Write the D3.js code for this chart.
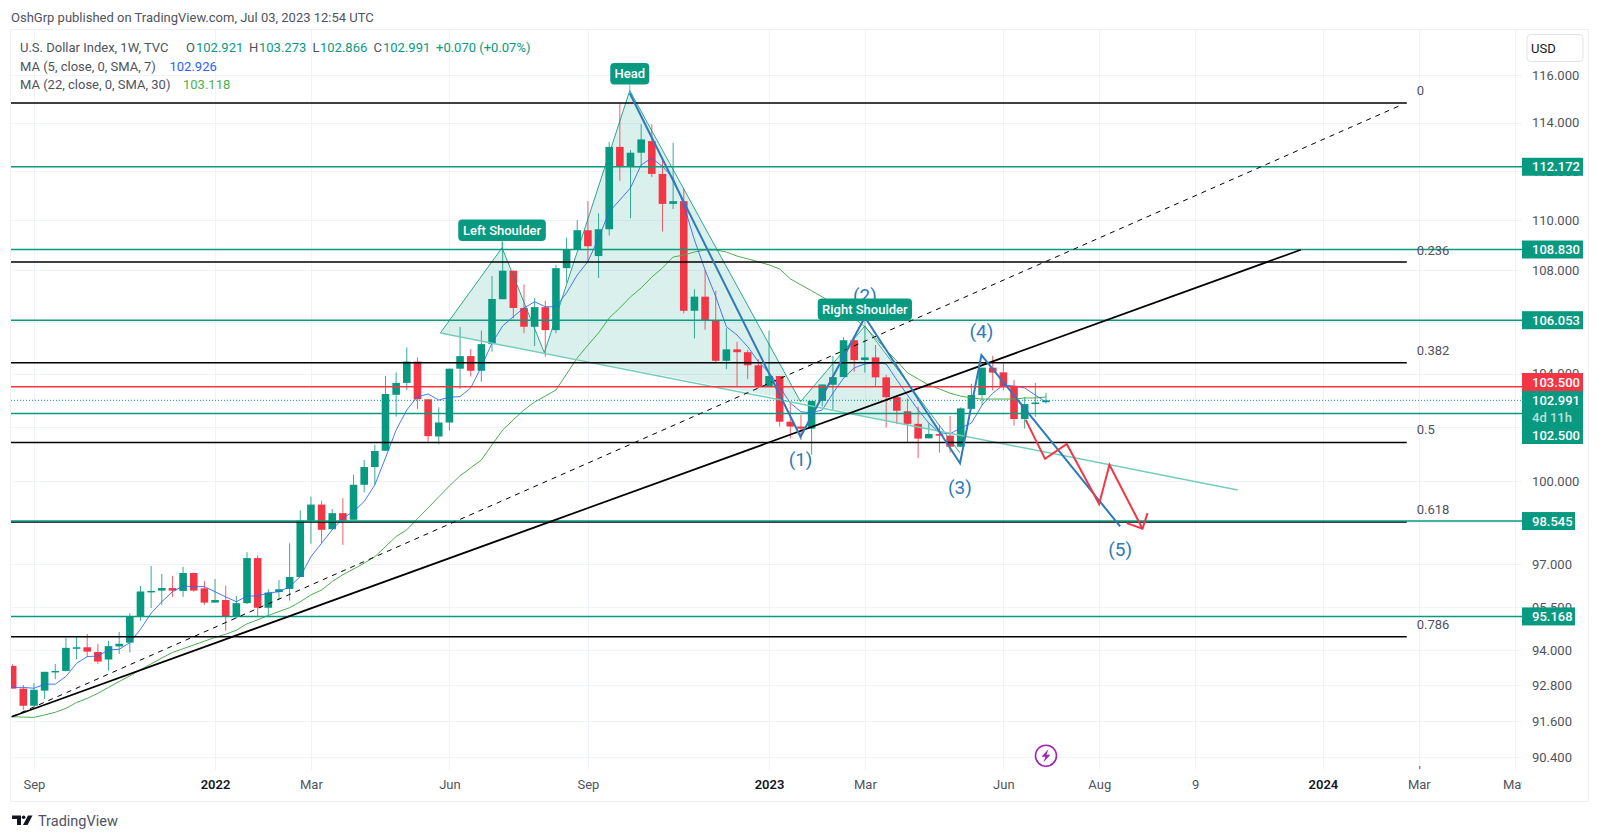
<!DOCTYPE html>
<html><head><meta charset="utf-8">
<script src="https://cdn.jsdelivr.net/npm/d3@7/dist/d3.min.js"></script>
<style>html,body{margin:0;padding:0;background:#fff}svg{display:block}</style>
</head><body><svg id="c" width="1600" height="840"></svg>
<script>
// ---- candles (week index -1 .. 96) ----
const opens=[93.46,92.69,92.11,92.62,93.26,93.29,94.07,94.10,93.94,93.68,94.13,94.26,95.16,96.04,96.07,96.16,96.06,96.69,96.15,95.65,95.74,95.16,95.63,97.22,95.47,96.02,96.13,96.55,98.56,99.14,98.25,98.83,98.59,99.86,100.51,101.11,103.20,103.65,104.46,103.03,101.64,102.16,104.19,104.67,104.11,105.13,106.87,107.99,106.53,105.80,106.56,105.67,108.09,108.82,109.60,108.57,109.64,112.99,112.18,112.75,113.23,111.88,110.66,110.77,106.42,106.97,106.06,104.49,104.93,104.82,104.32,103.50,103.91,102.19,102.01,101.93,102.97,103.58,103.87,105.28,104.52,104.62,103.86,103.11,102.58,102.11,101.57,101.73,101.67,101.26,102.67,103.19,104.23,104.05,103.54,102.29,102.85,102.921];
const highs=[93.52,92.81,92.87,93.26,93.53,94.43,94.47,94.56,94.21,94.32,94.63,95.28,96.23,96.94,96.66,96.59,96.91,96.71,96.41,96.48,96.25,95.88,97.43,97.32,96.12,96.44,97.75,98.93,99.43,99.28,98.98,99.37,100.23,100.77,101.33,103.92,104.05,105.00,104.62,103.03,102.73,104.19,105.79,104.94,105.65,107.78,109.14,107.99,107.45,106.91,106.81,108.22,109.30,110.00,110.78,110.28,113.20,114.80,112.86,113.93,113.93,112.52,113.16,111.30,107.26,108.02,107.20,105.74,105.22,104.90,104.55,105.65,103.91,102.88,102.44,102.97,103.59,104.68,105.40,105.32,105.83,105.09,103.95,103.19,103.06,102.75,102.13,102.07,102.40,102.73,103.61,104.23,104.68,104.39,103.76,103.12,103.65,103.273];
const lows=[92.69,91.97,92.10,92.34,93.01,93.27,93.69,93.76,93.53,93.30,93.87,93.92,95.02,95.46,95.57,95.85,95.85,96.03,95.57,95.65,94.67,95.10,95.60,95.16,95.16,95.74,95.72,96.55,97.73,97.75,98.23,97.69,98.59,99.58,99.86,101.11,102.38,103.38,102.67,101.45,101.35,101.86,103.43,103.89,103.70,104.84,106.87,106.13,105.55,105.06,104.65,105.55,107.53,108.82,108.35,107.70,109.39,111.60,110.08,112.18,111.75,109.55,110.45,106.32,105.35,105.68,104.42,104.17,103.50,103.79,103.44,103.50,102.01,101.57,101.51,100.96,102.75,102.63,103.87,104.07,104.04,103.50,101.97,102.10,101.41,100.84,101.57,101.04,101.04,101.24,102.67,102.81,103.37,103.37,102.04,101.94,102.38,102.866];
const closes=[92.69,92.11,92.65,93.26,93.29,94.08,94.10,93.95,93.61,94.14,94.22,95.16,96.04,96.06,96.16,96.07,96.69,96.07,95.65,95.74,95.16,95.63,97.22,95.47,96.00,96.12,96.55,98.56,99.14,98.23,98.83,98.56,99.86,100.51,101.10,103.23,103.65,104.46,103.03,101.65,102.16,104.19,104.67,104.11,105.13,106.88,107.99,106.53,105.80,106.56,105.67,108.09,108.82,109.60,108.96,109.64,112.99,112.18,112.75,113.30,111.88,110.66,110.77,106.42,106.97,106.06,104.49,104.93,104.82,104.32,103.50,103.91,102.19,102.01,101.93,102.97,103.59,103.87,105.28,104.52,104.62,103.86,103.11,102.60,102.11,101.56,101.73,101.67,101.26,102.69,103.19,104.23,104.04,103.50,102.29,102.85,102.91,102.991];
// ---- moving averages (same weeks) ----
const ma5=[92.73,92.73,92.70,92.84,92.84,93.10,93.55,93.78,93.80,94.01,94.03,94.26,94.72,95.28,95.68,96.03,96.23,96.21,96.21,96.03,95.85,95.68,95.88,95.88,95.99,96.03,96.21,96.56,97.27,97.75,98.23,98.65,98.89,99.25,99.86,100.85,101.88,102.63,103.13,103.23,103.00,103.11,103.13,103.46,104.27,105.17,105.83,106.19,106.53,106.77,106.58,106.57,107.12,107.82,108.35,109.29,110.34,110.82,111.31,112.25,112.53,112.18,111.72,110.62,109.21,108.02,106.97,105.80,105.48,105.03,104.46,104.04,103.50,102.89,102.56,102.53,102.63,103.26,103.83,104.22,104.37,104.42,104.37,103.76,103.19,102.63,102.14,101.78,101.74,101.96,102.14,102.81,103.26,103.57,103.53,103.46,103.19,102.926];
const ma22=[91.74,91.73,91.72,91.80,91.89,92.02,92.22,92.36,92.53,92.73,92.93,93.12,93.33,93.53,93.73,93.92,94.05,94.18,94.31,94.44,94.55,94.69,94.91,95.05,95.20,95.34,95.47,95.68,95.92,96.09,96.39,96.63,96.83,97.04,97.27,97.63,97.99,98.23,98.63,99.02,99.42,99.82,100.19,100.48,100.77,101.33,101.88,102.26,102.63,102.93,103.15,103.38,103.99,104.60,105.09,105.56,106.14,106.53,106.96,107.31,107.74,108.10,108.53,108.61,108.73,108.81,108.81,108.73,108.57,108.46,108.34,108.22,108.06,107.67,107.43,107.20,106.96,106.72,106.45,106.14,105.79,105.37,104.90,104.48,104.03,103.80,103.57,103.42,103.26,103.15,103.08,103.04,103.04,103.04,103.04,103.08,103.08,103.118];
// ---- axes ----
const priceTicks=[116,114,112,110,108,106,104,102,100,98.5,97,95.5,94,92.8,91.6,90.4];
const timeTickWeeks=[1,18,27,40,53,70,79,92,101,110,122,131,140];
const timeTickLabels=["Sep","2022","Mar","Jun","Sep","2023","Mar","Jun","Aug","9","2024","Mar","May"];
const boldLabels=["2022","2023","2024"];
// ---- horizontal levels ----
const greenLevels=[112.172,108.83,106.053,102.5,98.545,95.168];
const greenTagRows=[["112.172",112.172,61],["108.830",108.83,61],["106.053",106.053,61],["98.545",98.545,53],["95.168",95.168,53]];
const fibLevels=[114.82,108.33,104.42,101.42,98.51,94.46];
const fibNames=["0","0.236","0.382","0.5","0.618","0.786"];
const fibLabelPrices=[115.33,108.80,104.87,101.89,98.95,94.87];
const redLevel=103.5, lastPrice=102.991;
// ---- drawings: [week, price] ----
const leftTriangle=[[39.15,105.56],[44.94,108.9],[48.91,104.8]];
const headTriangle=[[48.91,104.8],[56.93,115.34],[72.96,102.94]];
const rightTriangle=[[72.96,102.94],[79,105.83],[86.2,101.81]];
const hsLine=[[39.15,105.56],[44.94,108.9],[48.91,104.8],[56.93,115.34],[72.96,102.94],[79,105.83],[87.93,101.03]];
const neckline=[[39.15,105.56],[114,99.67]];
const solidTrend=[[-1.09,91.74],[119.93,108.82]];
const dashedTrend=[[-1.09,91.74],[129.33,114.73]];
const waveLine=[[56.93,115.23],[72.96,101.63],[79,106.17],[87.93,100.65],[89.94,104.71],[102.96,98.35]];
const waveLabels=[["(1)",72.96,100.78],["(2)",79,107.03],["(3)",87.93,99.75],["(4)",89.94,105.6],["(5)",102.96,97.51]];
const redPath=[[94.1,102.26],[95.91,100.81],[97.95,101.36],[100.99,99.16],[101.96,100.59],[105.06,98.27]];
const redArrow=[[103.59,98.47],[105.06,98.27],[105.53,98.83]];
const badgeNames=["Left Shoulder","Head","Right Shoulder"];
const badgeAnchors=[[44.94,108.9,109.17,87.6],[56.93,115.34,115.6,39],[79,105.83,106.06,94.3]];

const UP="#089981",DOWN="#f23645",TEXT="#50535e",DARK="#131722",GRID="#f0f3fa",BLUE="#2f7ab9";
const FONT="Roboto,'Noto Sans',sans-serif";
const svg=d3.select("#c");
svg.attr("font-family",FONT);
const L=11,R=1522,T=30,B=770,FR=1588,FB=801;
const x=d3.scaleLinear().domain([0,140]).range([23.3,1514.7]);
const y=d3.scaleLog().domain([116,90.4]).range([75,757]);
const line=d3.line().x(d=>x(d[0])).y(d=>y(d[1]));
const defs=svg.append("defs");
defs.append("clipPath").attr("id","pane").append("rect").attr("x",L).attr("y",T).attr("width",R-L).attr("height",B-T);
defs.append("clipPath").attr("id","taxis").append("rect").attr("x",L).attr("y",B).attr("width",R-L).attr("height",FB-B);

// header
svg.append("text").attr("x",11).attr("y",22).attr("font-size",13).attr("fill",TEXT)
  .text("OshGrp published on TradingView.com, Jul 03, 2023 12:54 UTC");
// frame
svg.append("rect").attr("x",L-.5).attr("y",T-.5).attr("width",FR-L+1).attr("height",FB-T+1).attr("fill","#fff").attr("stroke","#eef0f6");

// grid
const grid=svg.append("g").attr("stroke",GRID).attr("stroke-width",1);
grid.selectAll("line.h").data(priceTicks).join("line").attr("x1",L).attr("x2",R).attr("y1",d=>Math.round(y(d))+.5).attr("y2",d=>Math.round(y(d))+.5);
grid.selectAll("line.v").data(timeTickWeeks).join("line").attr("x1",d=>Math.round(x(d))+.5).attr("x2",d=>Math.round(x(d))+.5).attr("y1",T).attr("y2",B);

// axes
const ay=svg.append("g").attr("transform",`translate(${R},0)`).call(d3.axisRight(y).tickValues(priceTicks).tickSize(0).tickPadding(10).tickFormat(d3.format(".3f")));
ay.select(".domain").remove();
ay.selectAll("text").attr("font-size",13).attr("fill",TEXT).attr("font-family",FONT);
const ax=svg.append("g").attr("clip-path","url(#taxis)").append("g").attr("transform",`translate(0,${B})`)
  .call(d3.axisBottom(x).tickValues(timeTickWeeks).tickSize(0).tickPadding(10).tickFormat((d,i)=>timeTickLabels[i]));
ax.select(".domain").remove();
ax.selectAll("text").attr("font-size",13).attr("font-family",FONT)
  .attr("fill",function(){return boldLabels.includes(this.textContent)?DARK:TEXT;})
  .attr("font-weight",function(){return boldLabels.includes(this.textContent)?600:400;});

const pane=svg.append("g").attr("clip-path","url(#pane)");
// HS fill sits under the candles
[leftTriangle,headTriangle,rightTriangle].forEach(t=>pane.append("path").attr("d",line(t)+"Z").attr("fill",UP).attr("fill-opacity",.15).attr("stroke","none"));
// candles
const candles=d3.range(-1,97).map((w,i)=>({w,o:opens[i],h:highs[i],l:lows[i],c:closes[i]}));
const bw=7.6;
const colr=d=>d.c>=d.o?UP:DOWN;
pane.append("g").selectAll("line").data(candles).join("line")
  .attr("x1",d=>x(d.w)).attr("x2",d=>x(d.w)).attr("y1",d=>y(d.h)).attr("y2",d=>y(d.l))
  .attr("stroke",colr).attr("stroke-width",1).attr("opacity",.8);
pane.append("g").selectAll("rect").data(candles).join("rect")
  .attr("x",d=>x(d.w)-bw/2).attr("width",bw)
  .attr("y",d=>y(Math.max(d.o,d.c))).attr("height",d=>Math.max(1.5,Math.abs(y(d.o)-y(d.c))))
  .attr("fill",colr);
// MAs
const weeks=d3.range(-1,97);
pane.append("path").attr("d",line(weeks.map((w,i)=>[w,ma22[i]]))).attr("fill","none").attr("stroke","#4caf50").attr("stroke-width",1);
pane.append("path").attr("d",line(weeks.map((w,i)=>[w,ma5[i]]))).attr("fill","none").attr("stroke","#2962ff").attr("stroke-width",1).attr("opacity",.85);

// HS outline
pane.append("path").attr("d",line(hsLine)).attr("fill","none").attr("stroke",UP).attr("stroke-width",1).attr("opacity",.85);
pane.append("path").attr("d",line(neckline)).attr("fill","none").attr("stroke","#74cdbb").attr("stroke-width",1.5);

// levels
const hl=(g,p,c,x2,w)=>g.append("line").attr("x1",L).attr("x2",x2).attr("y1",y(p)).attr("y2",y(p)).attr("stroke",c).attr("stroke-width",w);
fibLevels.forEach(p=>hl(pane,p,"#000",x(129.87),1.5));
greenLevels.forEach(p=>hl(pane,p,UP,R,1.5));
hl(pane,redLevel,DOWN,R,1.5);
pane.append("line").attr("x1",L).attr("x2",R).attr("y1",y(lastPrice)).attr("y2",y(lastPrice)).attr("stroke",UP).attr("stroke-width",1).attr("stroke-dasharray","1 2");

// trends
pane.append("path").attr("d",line(solidTrend)).attr("stroke","#000").attr("stroke-width",1.7).attr("fill","none");
pane.append("path").attr("d",line(dashedTrend)).attr("stroke","#000").attr("stroke-width",1).attr("stroke-dasharray","5 5").attr("fill","none");
// waves
pane.append("path").attr("d",line(waveLine)).attr("stroke",BLUE).attr("stroke-width",2).attr("fill","none");
pane.selectAll("text.w").data(waveLabels).join("text").attr("x",d=>x(d[1])).attr("y",d=>y(d[2])).attr("text-anchor","middle").attr("dominant-baseline","central").attr("font-size",19).attr("fill",BLUE).text(d=>d[0]);
// red projection
pane.append("path").attr("d",line(redPath)).attr("stroke",DOWN).attr("stroke-width",2).attr("fill","none");
pane.append("path").attr("d",line(redArrow)).attr("stroke",DOWN).attr("stroke-width",2).attr("fill","none");

// fib labels
svg.selectAll("text.f").data(fibNames).join("text").attr("x",x(130.8)).attr("y",(d,i)=>y(fibLabelPrices[i])).attr("dominant-baseline","central").attr("font-size",13).attr("fill",TEXT).text(d=>d);

// badges
badgeNames.forEach((n,i)=>{
  const a=badgeAnchors[i],cx=x(a[0]),yb=y(a[2]),h=21.5,w=a[3];
  pane.append("line").attr("x1",cx).attr("x2",cx).attr("y1",yb).attr("y2",y(a[1])).attr("stroke",UP).attr("opacity",.6);
  pane.append("rect").attr("x",cx-w/2).attr("y",yb-h).attr("width",w).attr("height",h).attr("rx",4).attr("fill",UP);
  pane.append("text").attr("x",cx).attr("y",yb-h/2).attr("text-anchor","middle").attr("dominant-baseline","central").attr("font-size",13).attr("font-weight",500).attr("fill","#fff").text(n);
});

// lightning icon
const ic=svg.append("g").attr("transform",`translate(${x(96)},755.7)`);
ic.append("circle").attr("r",10.5).attr("fill","#fff").attr("stroke","#9c27b0").attr("stroke-width",1.6);
ic.append("path").attr("d","M2.5,-6.5 L-4.5,1 L-0.5,1 L-2.5,6.5 L4.5,-1 L0.5,-1 Z").attr("fill","#9c27b0");
// tiny marker on the axis edge
svg.append("line").attr("x1",x(131)+1).attr("x2",x(131)+1).attr("y1",766).attr("y2",769).attr("stroke","#50535e");

// price tags
greenTagRows.forEach(r=>{
  const cy=y(r[1]);
  svg.append("rect").attr("x",R).attr("y",cy-9).attr("width",r[2]).attr("height",18).attr("fill",UP);
  svg.append("text").attr("x",R+10).attr("y",cy).attr("dominant-baseline","central").attr("font-size",13).attr("font-weight",500).attr("fill","#fff").text(r[0]);
});
svg.append("rect").attr("x",R).attr("y",391).attr("width",61).attr("height",53).attr("fill",UP);
svg.append("rect").attr("x",R).attr("y",373).attr("width",61).attr("height",18).attr("fill",DOWN);
[["103.500",382,"#fff",1],["102.991",400.5,"#fff",1],["4d 11h",417.5,"#fff",.7],["102.500",435,"#fff",1]].forEach(r=>{
  svg.append("text").attr("x",R+10).attr("y",r[1]).attr("dominant-baseline","central").attr("font-size",13).attr("font-weight",500).attr("fill",r[2]).attr("opacity",r[3]).text(r[0]);
});
// USD box
svg.append("rect").attr("x",1527).attr("y",34.5).attr("width",56).attr("height",27).attr("rx",4).attr("fill","#fff").attr("stroke","#e0e3eb");
svg.append("text").attr("x",1531).attr("y",48).attr("dominant-baseline","central").attr("font-size",13).attr("fill",DARK).text("USD");

// legend
const legendRows=[
 [47,[[20,"U.S. Dollar Index, 1W, TVC",TEXT],[186,"O",TEXT],[196,"102.921",UP],[249,"H",TEXT],[259,"103.273",UP],[312.5,"L",TEXT],[320,"102.866",UP],[373.5,"C",TEXT],[383,"102.991",UP],[436,"+0.070 (+0.07%)",UP]]],
 [66,[[20,"MA (5, close, 0, SMA, 7)",TEXT],[169.5,"102.926","#2962ff"]]],
 [84,[[20,"MA (22, close, 0, SMA, 30)",TEXT],[183,"103.118","#4caf50"]]]];
legendRows.forEach(r=>r[1].forEach(c=>svg.append("text").attr("x",c[0]).attr("y",r[0]).attr("dominant-baseline","central").attr("font-size",13).attr("fill",c[2]).text(c[1])));

// footer logo
const logo=svg.append("g").attr("fill","#131722");
logo.append("path").attr("d","M12,815.5 H21 V825 H17 V819 H12 Z");
logo.append("circle").attr("cx",23.6).attr("cy",817.3).attr("r",1.8);
logo.append("path").attr("d","M32.5,815.5 L27.5,825 H23 L28,815.5 Z");
svg.append("text").attr("x",38).attr("y",821).attr("dominant-baseline","central").attr("font-size",14.5).attr("fill",TEXT).text("TradingView");
</script></body></html>
